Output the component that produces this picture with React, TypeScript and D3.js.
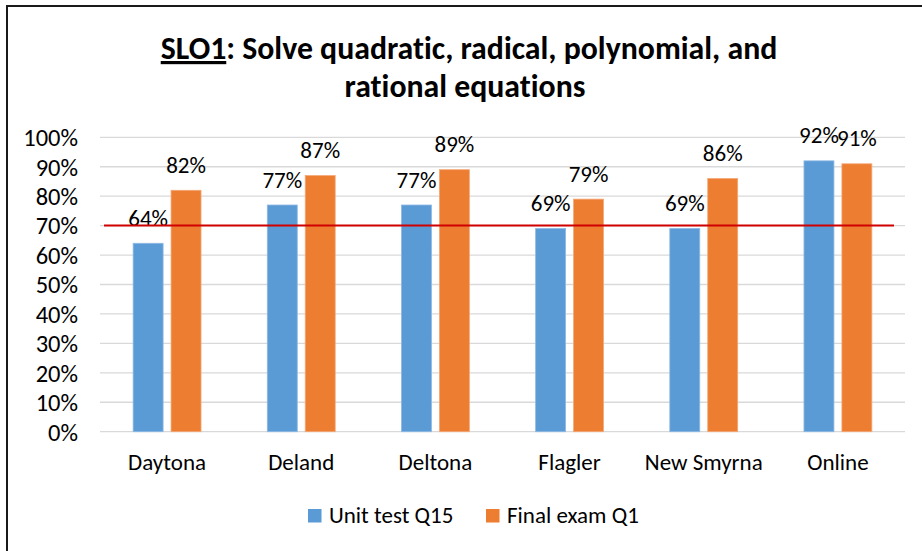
import React from "react";
import * as d3 from "d3";

const categories = ["Daytona", "Deland", "Deltona", "Flagler", "New Smyrna", "Online"];
const unitTestQ15 = [0.64, 0.77, 0.77, 0.69, 0.69, 0.92];
const finalExamQ1 = [0.82, 0.87, 0.89, 0.79, 0.86, 0.91];
const seriesNames = ["Unit test Q15", "Final exam Q1"];
const seriesColors = ["#5B9BD5", "#ED7D31"];
const yTicks = [0, 0.1, 0.2, 0.3, 0.4, 0.5, 0.6, 0.7, 0.8, 0.9, 1.0];
const targetValue = 0.7;
const titleLead = "SLO1";
const titleLine1Rest = ": Solve quadratic, radical, polynomial, and";
const titleLine2 = "rational equations";

const W = 922;
const H = 551;
const FONT = "Carlito, Calibri, Lato, 'Open Sans', sans-serif";

export default function App() {
  const plot = { left: 100, right: 905, top: 137.3, bottom: 431.7 };
  const x = d3.scaleBand<string>().domain(categories).range([plot.left, plot.right]).padding(0);
  const groupW = x.bandwidth() * 0.506;
  const inner = d3
    .scaleBand<number>()
    .domain([0, 1])
    .range([(x.bandwidth() - groupW) / 2, (x.bandwidth() + groupW) / 2])
    .paddingInner(0.21)
    .paddingOuter(0);
  const y = d3.scaleLinear().domain([0, 1]).range([plot.bottom, plot.top]);
  const fmt = d3.format(".0%");
  const series = [unitTestQ15, finalExamQ1];
  const fs = 23;

  return (
    <div style={{ position: "absolute", left: 0, top: 0 }}>
      <svg
        width={W}
        height={H}
        style={{ display: "block", background: "#fff", fontVariantLigatures: "none" }}
        fontFamily={FONT}
      >
        <rect x={7} y={6} width={W + 20} height={H + 20} fill="#fff" stroke="#1a1a1a" strokeWidth={2} />
        {/* title */}
        <text x={469} y={59} textAnchor="middle" fontSize={31.8} fontWeight="bold" fill="#000">
          <tspan textDecoration="underline">{titleLead}</tspan>
          <tspan>{titleLine1Rest}</tspan>
        </text>
        <text x={465} y={97} textAnchor="middle" fontSize={31.8} fontWeight="bold" fill="#000">
          {titleLine2}
        </text>
        {/* gridlines */}
        {yTicks.map((t) => (
          <line key={t} x1={plot.left} x2={plot.right} y1={y(t)} y2={y(t)} stroke="#D9D9D9" strokeWidth={1.3} />
        ))}
        {/* y labels */}
        {yTicks.map((t) => (
          <text key={"l" + t} x={78} y={y(t)} dy="0.36em" textAnchor="end" fontSize={24.5} fill="#000">
            {fmt(t)}
          </text>
        ))}
        {/* bars */}
        {categories.map((c, i) => (
          <g key={c} transform={`translate(${x(c)},0)`}>
            {series.map((s, k) => (
              <rect
                key={k}
                x={inner(k)}
                y={y(s[i])}
                width={inner.bandwidth()}
                height={y(0) - y(s[i])}
                fill={seriesColors[k]}
                stroke={k === 0 ? "#8DB9E5" : "#F4A877"}
                strokeWidth={0.8}
              />
            ))}
            {series.map((s, k) => (
              <text
                key={"d" + k}
                x={(inner(k) as number) + inner.bandwidth() / 2}
                y={y(s[i]) - 17.5}
                textAnchor="middle"
                fontSize={fs}
                fill="#000"
              >
                {fmt(s[i])}
              </text>
            ))}
            <text x={x.bandwidth() / 2} y={470} textAnchor="middle" fontSize={fs} fill="#000">
              {c}
            </text>
          </g>
        ))}
        {/* target line */}
        <line
          x1={plot.left + 4}
          x2={plot.right - 11}
          y1={y(targetValue)}
          y2={y(targetValue)}
          stroke="#D00000"
          strokeWidth={2}
        />
        {/* legend */}
        {seriesNames.map((n, k) => (
          <g key={n} transform={`translate(${k === 0 ? 308 : 486},509)`}>
            <rect x={0} y={0} width={13.5} height={13.5} fill={seriesColors[k]} />
            <text x={21} y={13.5} fontSize={fs} fill="#000">
              {n}
            </text>
          </g>
        ))}
      </svg>
    </div>
  );
}
